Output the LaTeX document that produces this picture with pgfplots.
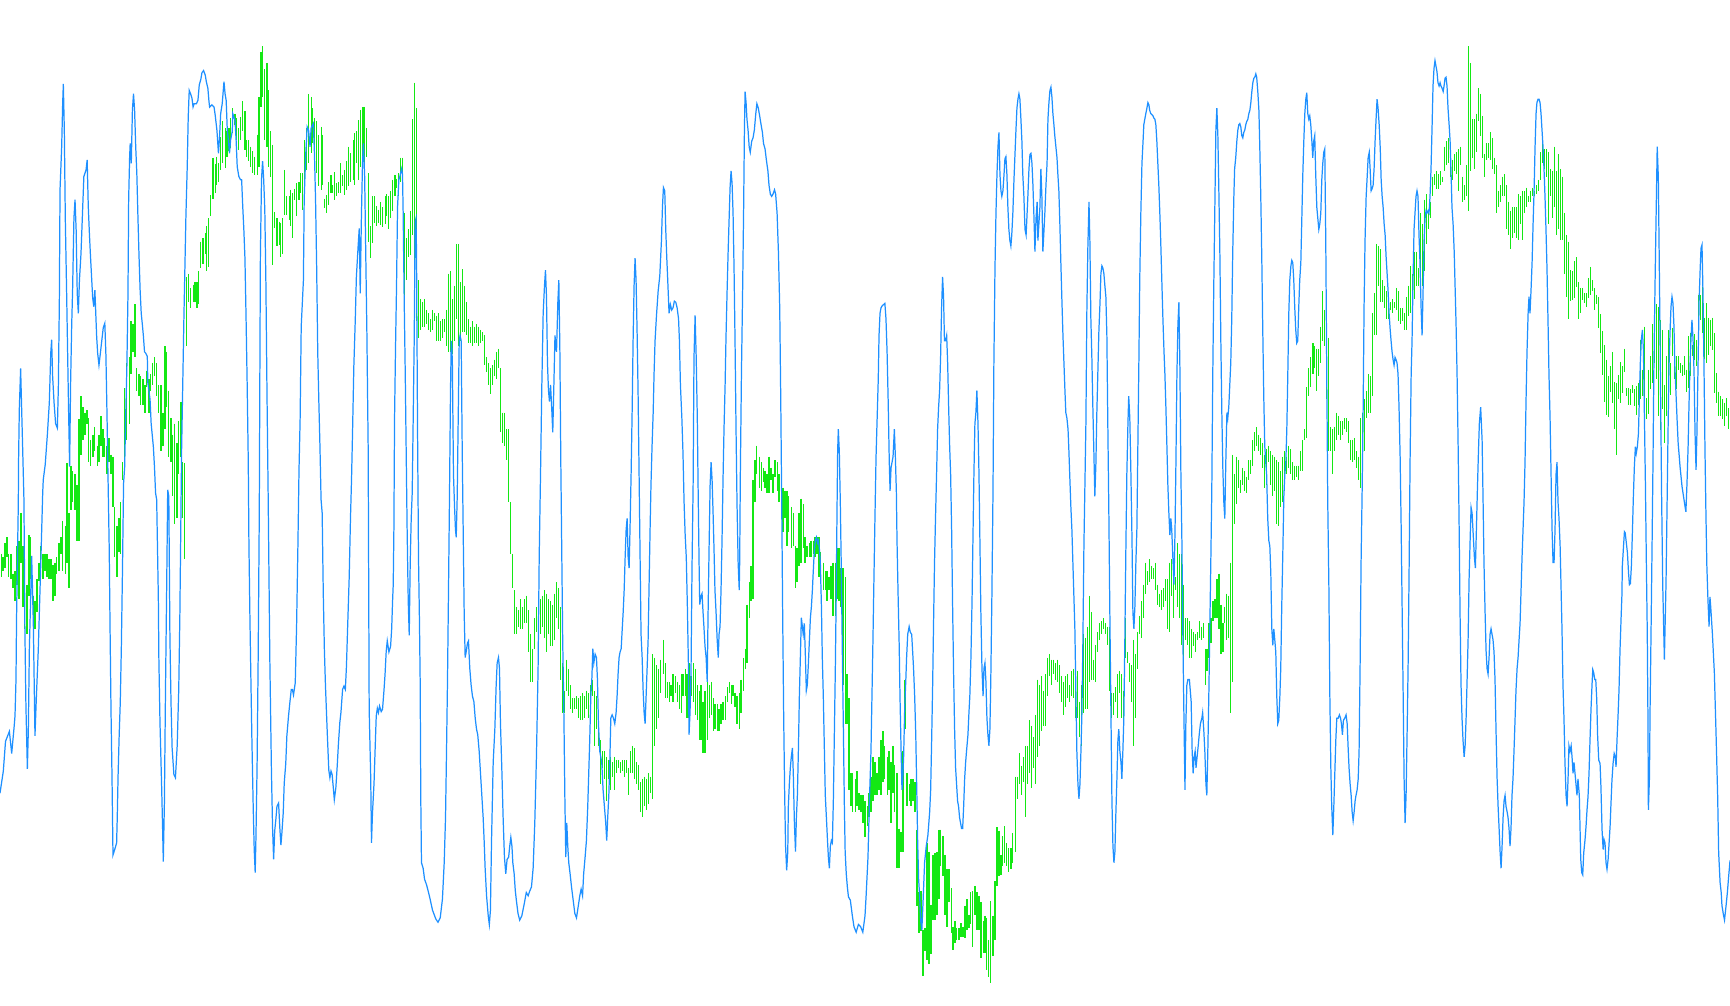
\documentclass[border=0pt]{standalone}
\usepackage{pgfplots}
\usepackage{pgfplotstable}
\pgfplotsset{compat=1.18}
\definecolor{oscblue}{RGB}{30,144,255}
\definecolor{pricegreen}{RGB}{20,232,20}
% price bars: x, top (lo) and bottom (hi) in screen units, y grows downwards
\pgfplotstableread[row sep=\\]{
x lo hi\\
1 502 523\\ 2.7 505 518\\ 4.5 492 515\\ 6.3 487 505\\ 8 502 523\\ 10 502 525\\ 11.8 520 533\\ 13.6 518 545\\
15.4 495 530\\ 17.2 490 543\\ 19 465 510\\ 20.8 495 550\\ 22.6 520 570\\ 24.5 530 575\\ 26.3 485 540\\ 28 487 525\\
30 540 575\\ 31.7 545 570\\ 33.5 525 555\\ 35.3 510 527\\ 37 495 525\\ 39 502 525\\ 40.8 502 518\\ 42.6 502 523\\
44.4 507 525\\ 46.2 507 525\\ 48 512 545\\ 49.8 510 540\\ 51.6 505 520\\ 53.5 492 518\\ 55.3 487 502\\ 57 472 518\\
59 477 520\\ 60.7 420 510\\ 62.5 465 533\\ 64.3 422 462\\ 66 427 455\\ 68 430 462\\ 69.8 440 490\\ 71.6 380 490\\
73.4 359 412\\ 75.2 369 399\\ 77 374 394\\ 78.8 372 384\\ 80.6 379 419\\ 82.4 399 422\\ 84.3 394 414\\ 86 387 409\\
88 404 422\\ 89.7 394 419\\ 91.5 377 404\\ 93.3 389 414\\ 95 397 414\\ 97 404 430\\ 98.8 397 419\\ 100.6 412 430\\
102.4 414 460\\ 104 460 505\\ 106 477 523\\ 107.8 470 500\\ 109.6 455 502\\ 111.4 419 435\\ 113 352 419\\ 115 329 399\\
117 324 384\\ 118.7 291 339\\ 120.5 294 319\\ 122.3 276 324\\ 124 334 354\\ 126 339 359\\ 127.7 341 367\\ 129.6 344 367\\
131.4 349 374\\ 133 336 351\\ 135 344 374\\ 136.8 339 354\\ 138.6 329 349\\ 140.4 324 341\\ 142.2 329 359\\ 144 349 374\\
145.9 349 409\\ 147.7 374 404\\ 149.5 314 389\\ 151.3 319 369\\ 153 354 414\\ 155 379 419\\ 156.7 394 450\\ 158.5 384 475\\
160.4 402 470\\ 162 382 430\\ 164 364 414\\ 165.8 419 470\\ 167.6 420 507\\ 169.4 251 314\\ 171.2 248 274\\ 173 261 279\\
175 258 274\\ 176.7 256 274\\ 178.5 256 279\\ 180.3 246 276\\ 182 219 243\\ 184 216 239\\ 186 211 230\\ 187.5 205 246\\
189 198 242\\ 191 177 196\\ 193 143 180\\ 195 149 175\\ 196.6 142 168\\ 198.4 148 165\\ 200 124 154\\ 202 110 148\\
204 116 152\\ 205.7 119 142\\ 207.5 116 137\\ 209 107 134\\ 211 98 121\\ 213 103 113\\ 214.7 107 127\\ 216.5 116 136\\
218 106 127\\ 220 92 119\\ 222 101 136\\ 223.8 127 142\\ 225.6 127 146\\ 227.4 133 151\\ 229 137 157\\ 231 142 159\\
233 122 159\\ 234.7 88 151\\ 236.5 47 97\\ 238 42 88\\ 240 63 127\\ 242 57 133\\ 243.7 82 151\\ 245.5 119 160\\
247 131 240\\ 249 192 207\\ 251 198 223\\ 253 201 222\\ 254.6 202 233\\ 256.4 198 230\\ 258 154 195\\ 260 178 195\\
262 178 199\\ 263.6 172 205\\ 265.5 175 216\\ 267 171 181\\ 269 166 196\\ 271 165 181\\ 272.7 157 175\\ 274.5 157 190\\
276 127 181\\ 278 116 154\\ 280 85 148\\ 282 88 139\\ 283.6 98 130\\ 285.4 107 151\\ 287 110 157\\ 289 122 169\\
291 115 172\\ 292.6 122 168\\ 294.5 180 189\\ 296 177 193\\ 298 165 186\\ 300 159 175\\ 301.7 168 175\\ 303.5 156 181\\
305 166 178\\ 307 165 175\\ 309 148 175\\ 310.8 159 169\\ 312.6 154 177\\ 314.4 146 172\\ 316 133 169\\ 318 139 165\\
320 127 163\\ 321.6 121 168\\ 323.4 119 148\\ 325 109 163\\ 327 100 151\\ 329 97 142\\ 330.7 97 166\\ 332.5 116 142\\
334 157 219\\ 336 205 234\\ 338 178 220\\ 339.8 178 202\\ 341.6 187 205\\ 343.4 190 202\\ 345 183 204\\ 347 188 206\\
349 178 203\\ 350.6 176 196\\ 352.5 178 208\\ 354 173 198\\ 356 163 191\\ 358 159 178\\ 359.7 162 170\\ 361.5 157 178\\
363.3 143 165\\ 365 143 163\\ 367 193 269\\ 368.8 216 254\\ 370.6 208 233\\ 372.4 191 231\\ 374.2 108 213\\ 376 75 269\\
377.8 98 291\\ 379.6 254 306\\ 381.5 271 299\\ 383.3 274 296\\ 385 271 296\\ 386.9 281 294\\ 388.7 284 299\\ 390.5 289 301\\
392.3 281 299\\ 394 284 291\\ 396 286 309\\ 397.8 284 309\\ 399.6 291 309\\ 401.4 289 306\\ 403.2 289 301\\ 405 281 314\\
406.8 248 319\\ 408.6 246 319\\ 410.4 271 321\\ 412 259 309\\ 414 221 289\\ 415.9 221 314\\ 417.7 256 309\\ 419.5 244 301\\
421.3 259 301\\ 423 274 304\\ 425 289 311\\ 426.7 296 311\\ 428.6 291 314\\ 430.4 296 311\\ 432.2 294 311\\ 434 296 314\\
435.8 299 311\\ 437.6 301 309\\ 439.4 304 331\\ 441.3 324 337\\ 443 329 349\\ 444.9 334 357\\ 446.7 331 349\\ 448.5 326 341\\
450.3 319 344\\ 452 316 334\\ 454 334 392\\ 455.7 374 402\\ 457.5 374 404\\ 459.4 389 417\\ 461 389 455\\ 463 455 502\\
464.8 502 533\\ 466.6 535 575\\ 468.4 550 575\\ 470.2 553 568\\ 472 543 570\\ 473.9 550 570\\ 475.7 543 565\\ 477.5 540 565\\
479.3 553 591\\ 481 575 618\\ 483 588 618\\ 484.7 560 588\\ 486.5 550 573\\ 488.4 545 565\\ 490 543 575\\ 492 540 568\\
493.8 535 578\\ 495.6 538 591\\ 497.4 543 575\\ 499.2 545 586\\ 501 548 586\\ 502.8 538 580\\ 504.7 528 560\\ 506.5 533 570\\
508.3 550 616\\ 510 601 646\\ 512 626 646\\ 513.7 598 626\\ 515.5 606 631\\ 517.4 621 643\\ 519 633 646\\ 521 633 643\\
522.8 631 643\\ 524.6 633 651\\ 526.4 631 653\\ 528.2 628 653\\ 530 631 651\\ 531.8 626 643\\ 533.7 628 651\\ 535.5 621 636\\
537.3 616 631\\ 539 626 676\\ 541 631 661\\ 542.7 656 676\\ 544.5 671 711\\ 546.3 681 696\\ 548 681 706\\ 550 686 726\\
551.8 689 706\\ 553.6 686 716\\ 555.4 691 704\\ 557.2 686 716\\ 559 689 701\\ 560.8 689 696\\ 562.6 691 701\\ 564.5 689 699\\
566.3 689 704\\ 568 689 701\\ 570 696 721\\ 571.7 681 701\\ 573.5 676 701\\ 575.3 678 706\\ 577 691 711\\ 579 693 716\\
580.8 709 736\\ 582.6 706 741\\ 584.4 704 731\\ 586.2 706 734\\ 588 701 729\\ 589.8 704 719\\ 591.6 593 724\\ 593.5 596 676\\
595.3 603 661\\ 597 606 651\\ 599 598 628\\ 601 580 611\\ 602.8 601 633\\ 604.6 618 633\\ 606.4 618 636\\ 608.2 621 631\\
610 611 636\\ 612 613 628\\ 613.7 618 636\\ 615.5 621 643\\ 617.3 611 646\\ 619 611 631\\ 621 606 631\\ 622.7 611 651\\
624.5 601 651\\ 626.3 613 631\\ 628.2 601 636\\ 630 606 648\\ 631.8 621 653\\ 633.6 626 671\\ 635.4 621 671\\ 637.2 636 683\\
639 626 683\\ 641 618 671\\ 642.7 621 651\\ 644.5 618 648\\ 646.3 633 663\\ 648 638 661\\ 650 638 663\\ 651.7 643 663\\
653.5 638 656\\ 655.3 636 653\\ 657.2 631 653\\ 659 623 636\\ 661 618 628\\ 662.6 621 638\\ 664.4 621 631\\ 666.2 628 641\\
668 631 656\\ 670 628 661\\ 671.6 616 646\\ 673.5 596 626\\ 675.3 588 606\\ 677 548 601\\ 679 528 560\\ 680.7 513 545\\
682.5 435 543\\ 684.3 417 455\\ 686 404 430\\ 688 414 442\\ 690 419 445\\ 691.6 424 437\\ 693.4 427 442\\ 695.2 430 447\\
697 414 447\\ 698.8 424 435\\ 700.6 430 447\\ 702.4 417 432\\ 704.3 419 445\\ 706 430 455\\ 708 435 455\\ 709.7 442 482\\
711.5 445 470\\ 713.3 445 495\\ 715 450 482\\ 717 460 497\\ 718.8 465 495\\ 720.6 495 533\\ 722.4 497 528\\ 724.2 465 513\\
726 452 510\\ 728 457 497\\ 729.6 487 510\\ 731.4 495 505\\ 733.3 492 505\\ 735 490 505\\ 737 490 502\\ 738.7 487 505\\
740.5 487 502\\ 742.3 487 523\\ 744 500 528\\ 746 510 535\\ 747.8 518 535\\ 749.6 518 545\\ 751.4 523 535\\ 753.2 513 543\\
755 510 558\\ 757 510 558\\ 758.6 497 543\\ 760.4 497 545\\ 762.2 515 550\\ 764 515 621\\ 766 523 656\\ 767.7 611 656\\
769.5 633 716\\ 771.3 701 731\\ 773 701 736\\ 775 706 736\\ 776.7 699 731\\ 778.5 719 734\\ 780.4 721 736\\ 782.2 721 746\\
784 726 759\\ 786 731 749\\ 787.6 719 741\\ 789.4 704 736\\ 791.2 686 726\\ 793 691 721\\ 794.9 701 721\\ 796.7 686 716\\
798.5 671 721\\ 800.3 663 709\\ 802 676 706\\ 804 686 721\\ 805.7 681 716\\ 807.5 691 746\\ 809.4 676 719\\ 811 693 736\\
813 701 787\\ 814.8 751 787\\ 816.6 754 772\\ 818.4 681 772\\ 820.2 616 661\\ 822 701 731\\ 824 711 726\\ 825.7 706 731\\
827.5 706 726\\ 829.3 709 736\\ 831.1 752 821\\ 832.9 809 846\\ 834.7 808 844\\ 836.5 843 885\\ 838.4 841 862\\ 840.2 764 870\\
842 772 874\\ 843.8 820 865\\ 845.6 775 834\\ 847.4 773 834\\ 849.2 772 829\\ 851 752 815\\ 852.8 752 785\\ 854.7 758 794\\
856.5 775 829\\ 858.3 788 840\\ 860.1 788 818\\ 862 805 846\\ 863.7 840 861\\ 865.5 835 855\\ 867.3 841 852\\ 869.2 841 852\\
871 837 849\\ 872.8 840 849\\ 874.6 821 850\\ 876.4 815 843\\ 878.2 829 841\\ 880 809 838\\ 881.8 808 858\\ 883.7 803 829\\
885.5 809 843\\ 887.3 812 843\\ 889.1 818 868\\ 891 835 864\\ 892.7 830 864\\ 894.5 832 879\\ 896.3 852 886\\ 898.1 817 891\\
900 830 867\\ 901.8 799 852\\ 903.6 750 803\\ 905.4 753 794\\ 907.2 775 793\\ 909 758 785\\ 910.8 749 782\\ 912.6 764 785\\
914.4 769 790\\ 916.3 769 788\\ 918 755 782\\ 920.5 704 772\\ 922.3 704 724\\ 924 683 711\\ 926 694 721\\ 927.7 686 709\\
929.5 676 741\\ 931.3 676 711\\ 933 653 701\\ 935 658 714\\ 936.8 668 696\\ 938.6 648 711\\ 940.4 616 686\\ 942.2 621 676\\
944 613 663\\ 945.8 626 658\\ 947.7 611 658\\ 949.5 596 631\\ 951.3 593 613\\ 953 598 621\\ 955 598 611\\ 956.7 601 616\\
958.5 598 618\\ 960.3 603 628\\ 962 613 636\\ 964 618 648\\ 965.8 613 641\\ 967.6 611 633\\ 969.4 621 636\\ 971.2 608 631\\
973 606 633\\ 975 598 651\\ 976.6 608 651\\ 978.5 636 668\\ 980.3 621 676\\ 982 575 646\\ 984 578 643\\ 985.7 568 643\\
987.5 540 618\\ 989.3 555 616\\ 991 598 616\\ 993 585 618\\ 994.8 573 591\\ 996.6 565 580\\ 998.4 563 575\\ 1000.2 560 570\\
1002 565 575\\ 1003.8 568 585\\ 1005.6 568 626\\ 1007.5 628 651\\ 1009.3 628 648\\ 1011 623 636\\ 1013 611 651\\ 1014.7 608 628\\
1016.5 611 651\\ 1018.3 626 651\\ 1020.1 560 596\\ 1022 591 601\\ 1023.8 601 618\\ 1025.6 603 636\\ 1027.4 580 676\\ 1029.2 593 651\\
1031 573 606\\ 1032.8 558 575\\ 1034.6 545 578\\ 1036.4 530 560\\ 1038.3 510 538\\ 1040 518 530\\ 1042 507 528\\ 1043.7 513 525\\
1045.5 515 525\\ 1047.3 510 535\\ 1049 530 548\\ 1051 538 550\\ 1052.8 535 553\\ 1054.6 533 550\\ 1056.4 525 545\\ 1058.2 525 570\\
1060 510 573\\ 1061.8 507 540\\ 1063.6 523 560\\ 1065.4 523 535\\ 1067.2 492 550\\ 1069 502 560\\ 1070.9 502 585\\ 1072.7 530 606\\
1074.5 560 580\\ 1076.3 560 585\\ 1078.1 563 596\\ 1080 570 596\\ 1081.8 573 586\\ 1083.5 575 591\\ 1085.3 573 580\\ 1087 563 578\\
1088.8 568 580\\ 1090.5 565 578\\ 1092.3 588 621\\ 1094 588 608\\ 1095.8 565 596\\ 1097.6 560 583\\ 1099.4 545 563\\ 1101.2 543 560\\
1103 525 560\\ 1104.8 520 570\\ 1106.6 548 593\\ 1108.4 565 591\\ 1110.2 550 565\\ 1112 538 580\\ 1113.8 540 578\\ 1115.6 510 646\\
1117.4 412 618\\ 1119.2 430 475\\ 1121 414 457\\ 1122.8 417 442\\ 1124.6 435 447\\ 1126.4 424 440\\ 1128.2 427 445\\ 1130 432 447\\
1131.9 417 435\\ 1133.7 417 430\\ 1135.5 399 422\\ 1137.3 392 409\\ 1139.1 387 404\\ 1141 394 409\\ 1142.7 397 412\\ 1144.5 402 424\\
1146.4 412 442\\ 1148.2 407 440\\ 1150 404 419\\ 1151.8 409 440\\ 1153.6 412 450\\ 1155.4 414 445\\ 1157.2 417 475\\ 1159 419 477\\
1160.8 427 460\\ 1162.7 414 455\\ 1164.5 409 445\\ 1166.3 414 430\\ 1168 404 424\\ 1170 407 430\\ 1171.7 419 435\\ 1173.5 422 435\\
1175.3 422 432\\ 1177.2 422 435\\ 1179 409 427\\ 1180.8 399 427\\ 1182.6 389 399\\ 1184.4 351 397\\ 1186.2 334 359\\ 1188 324 351\\
1190 311 339\\ 1191.7 314 334\\ 1193.5 316 354\\ 1195.3 316 341\\ 1197.1 296 329\\ 1199 264 309\\ 1200.7 281 314\\ 1202.5 309 362\\
1204.3 306 409\\ 1206.2 387 409\\ 1208 389 430\\ 1209.8 387 409\\ 1211.6 374 399\\ 1213.4 377 394\\ 1215.2 382 399\\ 1217 382 394\\
1218.8 379 389\\ 1220.7 379 392\\ 1222.5 382 402\\ 1224.3 399 417\\ 1226.1 399 419\\ 1228 397 417\\ 1229.7 409 424\\ 1231.5 414 435\\
1233.3 379 442\\ 1235.2 374 412\\ 1237 362 409\\ 1238.8 354 379\\ 1240.6 339 374\\ 1242.4 341 374\\ 1244.2 284 359\\ 1246 266 304\\
1247.8 221 304\\ 1249.6 223 259\\ 1251.5 226 274\\ 1253.3 254 274\\ 1255 259 279\\ 1256.9 264 289\\ 1258.7 271 289\\ 1260.5 274 281\\
1262.3 271 284\\ 1264.1 274 279\\ 1266 261 281\\ 1267.8 264 291\\ 1269.6 279 294\\ 1271.4 279 291\\ 1273.2 284 299\\ 1275 269 299\\
1276.8 259 286\\ 1278.6 241 284\\ 1280.5 248 274\\ 1282.3 228 271\\ 1284 228 259\\ 1285.9 243 259\\ 1287.7 193 248\\ 1289.5 203 259\\
1291.3 181 246\\ 1293.1 176 221\\ 1295 191 208\\ 1296.8 183 198\\ 1298.6 160 178\\ 1300.4 158 168\\ 1302.2 155 171\\ 1304 158 171\\
1305.8 155 168\\ 1307.6 160 165\\ 1309.4 133 155\\ 1311.3 128 150\\ 1313.1 125 148\\ 1314.9 138 160\\ 1316.7 145 163\\ 1318.5 140 155\\
1320.3 138 158\\ 1322 135 173\\ 1324 133 150\\ 1325.7 160 183\\ 1327.5 168 181\\ 1329.4 150 178\\ 1331.2 42 191\\ 1333 57 155\\
1334.8 108 143\\ 1336.6 108 153\\ 1338.4 103 138\\ 1340.2 80 110\\ 1342 85 123\\ 1343.9 105 143\\ 1345.7 140 160\\ 1347.5 130 145\\
1349.3 130 143\\ 1351 120 145\\ 1353 125 153\\ 1354.7 143 158\\ 1356.5 150 193\\ 1358.4 173 188\\ 1360.2 168 183\\ 1362 160 178\\
1363.8 158 178\\ 1365.6 168 208\\ 1367.4 183 213\\ 1369.2 191 226\\ 1371 188 216\\ 1372.9 188 211\\ 1374.7 188 216\\ 1376.5 176 218\\
1378.3 178 203\\ 1380 173 218\\ 1382 173 193\\ 1383.7 170 188\\ 1385.5 178 183\\ 1387.3 173 183\\ 1389.2 170 178\\ 1391 173 178\\
1392.8 168 176\\ 1394.6 163 173\\ 1396.4 138 163\\ 1398.2 125 148\\ 1400 135 153\\ 1402 135 160\\ 1403.7 138 203\\ 1405.5 153 178\\
1407.3 155 198\\ 1409.1 133 188\\ 1411 155 213\\ 1412.7 140 208\\ 1414.5 153 218\\ 1416.3 160 218\\ 1418.2 193 248\\ 1420 213 269\\
1421.8 219 289\\ 1423.6 245 273\\ 1425.4 246 272\\ 1427.2 237 270\\ 1429 233 260\\ 1431 256 289\\ 1432.7 261 284\\ 1434.5 261 272\\
1436.3 266 275\\ 1438 266 278\\ 1440 252 270\\ 1441.7 242 267\\ 1443.6 254 264\\ 1445.4 261 281\\ 1447.2 267 276\\ 1449 269 297\\
1450.8 285 320\\ 1452.6 300 340\\ 1454.4 313 364\\ 1456.2 326 376\\ 1458 341 378\\ 1460 332 355\\ 1461.7 319 365\\ 1463.5 346 389\\
1465.3 347 412\\ 1467.1 340 362\\ 1469 328 365\\ 1470.7 332 356\\ 1472.6 316 337\\ 1474.4 352 359\\ 1476.2 352 367\\ 1478 353 367\\
1479.8 349 356\\ 1481.6 353 368\\ 1483.4 350 376\\ 1485.2 347 367\\ 1487 308 362\\ 1488.9 335 359\\ 1490.7 296 380\\ 1492.5 361 380\\
1494.3 335 375\\ 1496 323 353\\ 1498 294 347\\ 1499.7 303 329\\ 1501.5 276 344\\ 1503.3 278 377\\ 1505.2 290 390\\ 1507 299 371\\
1508.8 349 402\\ 1510.6 323 377\\ 1512.4 299 350\\ 1514.2 329 358\\ 1516 297 323\\ 1517.9 325 344\\ 1519.7 323 353\\ 1521.5 323 335\\
1523.3 329 338\\ 1525 331 341\\ 1527 323 340\\ 1528.7 335 355\\ 1530.5 305 352\\ 1532.3 302 341\\ 1534 313 323\\ 1535.9 303 326\\
1537.8 308 332\\ 1539.6 267 325\\ 1541.4 267 290\\ 1543.2 260 302\\ 1545 288 325\\ 1546.8 275 329\\ 1548.7 288 322\\ 1550.5 290 314\\
1552.3 288 317\\ 1554 302 356\\ 1556 338 365\\ 1557.7 355 377\\ 1559.5 359 377\\ 1561.3 362 380\\ 1563.2 365 386\\ 1565 361 377\\
1566.8 370 389\\
}\pricebars
\begin{document}
\begin{tikzpicture}
\useasboundingbox (0,0) rectangle (173mm,100.5mm);
\begin{axis}[
	at={(0,0)},anchor=south west,
	width=173mm,height=100.5mm,scale only axis,
	xmin=0,xmax=1568,ymin=0,ymax=911,y dir=reverse,
	hide axis]
% price bars, drawn as vertical strokes from top to bottom
\addplot[draw=none,mark=none,forget plot,
	error bars/.cd,y dir=plus,y explicit,error mark=none,
	error bar style={draw=pricegreen,line width=0.32pt}]
	table[x=x,y=lo,y error expr=\thisrow{hi}-\thisrow{lo}] {\pricebars};
% oscillator
\addplot[oscblue,line width=0.35pt,mark=none] coordinates {
(0,719) (3,699) (5,672) (8.5,663) (10.6,683) (12.7,660) (13.6,649) (14.5,616) (15,560) (16.6,456) (16.8,420)
(17.5,371) (18.7,334) (20.5,405) (21.7,453) (22.6,574) (23.5,640) (24.8,697) (25.7,661) (26.6,589) (27.8,541)
(28.7,504) (30.2,565) (31.7,667) (33,631) (34.7,589) (36,544) (37.4,495) (38.7,447) (39.2,435) (41,421) (43,393)
(44.7,365) (46,320) (46.8,308) (47.7,341) (49,365) (50.4,384) (52,388) (52.9,350) (53.8,272) (54.4,172) (55.9,133)
(56.8,94) (57.4,76) (58.3,118) (59.2,199) (60.4,266) (61.3,320) (62.2,374) (63.1,423) (64,347) (65,294) (65.8,263)
(67,198) (68,181) (69,208) (70,266) (71,284) (72,254) (73.4,230) (75,187) (76,160) (78,154) (79,145) (80,187)
(81,211) (82,232) (83,251) (84,270) (85,278) (86,263) (87.6,305) (88.5,320) (89.7,331) (91,320) (92,311) (93.6,297)
(95,293) (96,322) (97,377) (98,438) (99,498) (99.7,565) (100.6,643) (101.5,703) (102.4,775) (104,770) (105.7,764)
(106.3,740) (107,704) (108,667) (109,637) (110,586) (111,517) (112,438) (113,423) (114,374) (115,332) (116,266)
(116.6,181) (117.5,142) (118,130) (119,148) (120,100) (121,85) (122,100) (123,133) (124,157) (125,196) (126,232)
(127,263) (128,284) (129,294) (130,305) (131,319) (132,320) (133.5,323) (134,347) (136,362) (137,384) (139,405)
(140,423) (141,447) (142,453) (143.5,541) (144,598) (145,655) (146.5,713) (147.4,752) (148,781) (149,728) (150,625)
(151,538) (152,444) (153,450) (154,577) (155,637) (156,678) (157.6,702) (159,705) (160.6,676) (162,625) (163,559)
(164.6,408) (165.5,356) (166.7,287) (167.6,242) (168.5,196) (169.7,151) (170.6,106) (171.5,82) (172.7,85) (174,89)
(175,97) (176,94) (178,94) (179.4,91) (180.6,77) (182,72) (183,66) (184.5,64) (186,68) (187,74) (188.4,80) (189.4,92)
(190,97) (192,95) (194,97) (195,104) (196.6,118) (198,139) (199,124) (200,103) (201.4,94) (203,74) (204,85) (205,91)
(206,118) (207,127) (208,139) (209,127) (210.5,119) (211,103) (213,109) (214,127) (215,151) (216.5,160) (218,163)
(219,163) (220,187) (221,208) (222,234) (223,287) (224,347) (225,417) (225.6,492) (226.5,559) (227.4,616) (228.3,670)
(229.5,732) (230.4,770) (231.3,791) (232,758) (233,695) (234,595) (235,465) (235.5,344) (236,232) (237,163) (238,146)
(239,163) (240,190) (241,257) (242,358) (243,445) (244.6,601) (246,698) (247,749) (248,779) (249,753) (250,743)
(251,731) (252.5,728) (253.7,752) (254.6,766) (255.5,755) (256.7,737) (257.6,710) (259,692) (260,667) (261.5,649)
(262.7,637) (264,625) (265,625) (266,630) (267.6,619) (268.8,568) (270,495) (271,426) (272,381) (273,296) (275,254)
(275.7,181) (277,142) (278.4,115) (279.7,118) (281,133) (282,116) (284,112) (285,139) (286,181) (287,242) (288,320)
(289,365) (290,405) (291,453) (292,465) (293,538) (294,589) (295,622) (296.6,664) (298,698) (299,705) (300,699)
(301,702) (302,713) (303,725) (304.4,714) (305.6,695) (306.8,673) (308,655) (309,646) (310.5,625) (311.7,622)
(313,625) (314,604) (315,571) (316.5,523) (317.7,468) (318.6,435) (319.5,393) (320.7,332) (322,290) (323,251)
(324.6,223) (325.6,207) (326.5,266) (327.5,200) (328.5,150) (329.4,130) (330.5,160) (331.5,230) (332.5,300)
(333.7,407) (334.2,539) (334.6,643) (336,705) (336.7,764) (337.6,737) (339,710) (340,679) (341,649) (342,642)
(343,646) (344,640) (345.5,645) (346.7,643) (348,626) (349,611) (350,591) (351,581) (352.5,591) (354,586) (355,570)
(355.8,545) (356.4,530) (357,480) (357.6,379) (358.5,314) (359.4,259) (360.3,188) (361.5,163) (362.4,160) (364,153)
(364.8,158) (365.4,193) (366.3,269) (367.3,339) (368.2,414) (369,480) (370,545) (370.9,576) (371.8,510) (372.7,470)
(373.6,447) (374.5,379) (375.4,309) (376.3,201) (377,198) (377.5,228) (378.4,384) (379.3,505) (380.2,565) (380.8,616)
(381.4,726) (382,782) (383.5,787) (384.8,797) (386.6,802) (388.4,809) (389.6,814) (392,825) (395,833) (397,836)
(399,832) (401,815) (402.6,782) (403.8,741) (404.7,681) (405.6,616) (406.5,535) (407.4,450) (408.3,354) (409,309)
(409.5,314) (410,329) (411,430) (412,460) (412.8,480) (413.5,487) (414.4,450) (415.3,379) (416.2,309) (417,304)
(418,309) (418.9,405) (419.8,480) (420.7,555) (421.6,596) (422.5,591) (423.7,583) (424.6,581) (425.8,606) (427,621)
(428.2,631) (429.5,636) (430.7,651) (431.9,661) (433,666) (434.3,681) (435.5,701) (436.7,721) (437.9,741) (438.8,762)
(439.7,787) (441,812) (442.5,830) (443.5,838) (444.5,825) (445.5,762) (447,691) (448.5,661) (449.7,621) (450.6,601)
(451.8,596) (452.7,606) (453.6,656) (454.8,696) (456,741) (457.2,777) (458.4,792) (459.6,779) (461,777) (462,767)
(463,759) (464,767) (464.8,782) (466,792) (467,807) (468,816) (469.5,828) (471,834) (473,830) (475,820) (477,809)
(478.7,812) (480,808) (481.7,804) (483.2,787) (484.7,746) (486.2,686) (487.7,606) (488.7,505) (489.9,430) (491,354)
(492.3,284) (493.5,259) (494.4,245) (495.3,269) (496.2,329) (497.1,354) (498,364) (499,349) (500,369) (501,392)
(502,349) (503,304) (504.4,319) (505.6,274) (506.5,254) (507.4,314) (508.3,420) (509.2,505) (510,581) (511,641)
(512,726) (512.8,777) (513.7,746) (514.6,767) (515.5,782) (516.7,792) (518,804) (519.5,816) (521,828) (522.5,832)
(524,822) (525.5,812) (526.7,806) (528,812) (529,792) (530.3,777) (531.5,762) (532.7,731) (533.6,701) (534.5,671)
(535.5,631) (536.4,616) (537.3,588) (538.2,601) (539.4,593) (540.6,596) (541.5,616) (542.4,656) (543.6,681)
(544.5,686) (545.4,691) (546.6,716) (547.8,731) (549,746) (549.9,762) (550.8,741) (551.8,721) (552.7,691) (553.6,651)
(554.8,648) (556,651) (557.2,656) (558.4,646) (559.3,631) (560.2,611) (561.1,596) (562,591) (563,588) (563.8,573)
(564.8,555) (565.7,535) (566.6,505) (567.5,480) (568.4,470) (569.3,505) (570.2,515) (571,480) (572,430) (573,369)
(573.8,309) (574.7,259) (575.6,234) (576.5,254) (577.4,299) (578.3,354) (579.3,435) (580.2,510) (581,575) (582,596)
(582.9,626) (583.8,646) (584.7,656) (585.6,631) (586.5,606) (587.4,581) (588.3,530) (589.2,480) (590,440) (591,404)
(592,374) (592.8,339) (593.7,309) (595,286) (596.5,264) (598,250) (599.5,218) (600.4,188) (601.3,170) (602.5,173)
(603.4,208) (604.3,233) (605.2,254) (606.4,284) (607.6,276) (608.8,281) (610,279) (611.2,273) (612.5,274) (613.7,279)
(615,289) (615.8,309) (616.7,349) (618,379) (619,410) (620,455) (621,485) (622,505) (623,550) (624,606) (624.5,666)
(625.4,646) (626.3,611) (627.2,515) (628.2,440) (629,324) (630,286) (631,324) (632,379) (632.7,440) (633.6,510)
(634.2,548) (635.4,540) (636.3,538) (637.2,555) (638,568) (639,586) (640,596) (641,618) (641.7,560) (642.7,495)
(643.6,440) (644.5,419) (645.4,435) (646.3,465) (647.2,500) (648,535) (649,555) (650,580) (651,596) (651.7,575)
(652.6,568) (653.5,535) (654.4,490) (655.3,435) (656.2,389) (657.2,349) (658,306) (659,264) (660,226) (661,193)
(661.7,170) (662.6,155) (663.5,166) (664.4,193) (665.3,243) (666.2,309) (667.1,389) (668,457) (669,510) (670,535)
(670.4,510) (671,430) (672,339) (673,269) (674,188) (674.7,118) (675.3,83) (676.2,93) (677,108) (678,118) (679,133)
(680,138) (681.3,128) (682.5,125) (683.7,118) (685,103) (686,94) (687.3,98) (688.5,105) (689.8,113) (691,120)
(692,130) (693.4,135) (694.6,145) (696,155) (697,168) (698.2,176) (699.4,178) (700.6,176) (702,172) (703,176)
(704.3,193) (705.5,228) (706.7,279) (707.6,359) (708.5,455) (709.4,560) (710.3,651) (711.2,721) (712,767) (713,789)
(714,772) (714.5,731) (715.4,711) (716.3,696) (717.2,686) (718.2,678) (719,701) (720,746) (721,772) (721.8,741)
(722.7,721) (723.6,681) (724.5,631) (725.4,596) (726.3,560) (727.2,568) (728,575) (729,565) (730,596) (730.8,626)
(731.7,621) (732.7,601) (733.6,580) (734.5,560) (735.4,550) (736.3,535) (737,520) (738,500) (739,490) (740,487)
(741,492) (741.7,490) (742.6,497) (743.5,510) (744.5,550) (745.3,596) (746.2,631) (747.1,676) (748,721) (749,741)
(750,762) (750.8,777) (751.7,787) (752.6,767) (753.5,762) (754.4,764) (755.3,726) (756.2,666) (757.1,606) (758,530)
(758.6,465) (759.2,409) (759.8,389) (760.7,409) (761.6,455) (762.5,515) (763.5,596) (764.4,661) (765.3,731) (766,772)
(767,792) (768,804) (769,813) (770.7,816) (772.5,830) (774,840) (776,845) (778,838) (780,840) (782,845) (784,830)
(785,812) (786.7,777) (788,726) (789.4,681) (790.3,631) (791.2,580) (792,530) (793,470) (794,414) (795,379) (796,344)
(796.7,304) (797.6,284) (798.5,279) (799.7,277) (801,276) (802,275) (803,289) (804,319) (805,364) (806,419)
(806.7,445) (807.6,424) (808.5,419) (809.4,414) (810.6,389) (811.5,414) (812.4,445) (813,490) (814,540) (815,586)
(815.7,631) (816.6,676) (817.5,716) (818,711) (819,686) (820,641) (821,616) (821.7,596) (822.7,575) (824,568)
(825,573) (826.3,575) (827.2,591) (828,606) (829,631) (830,666) (831,721) (831.7,762) (832.6,797) (833.5,812)
(834.5,835) (835.5,843) (836.5,820) (838,782) (839.5,767) (841,757) (842.6,736) (843.5,716) (844.4,671) (845.3,621)
(846.2,560) (847,510) (848,465) (849,424) (849.8,389) (850.7,369) (851.6,354) (852.5,324) (853.4,279) (854.3,251)
(855.2,269) (856,309) (857,309) (858,304) (858.9,329) (859.8,369) (860.7,404) (861.6,430) (862.5,480) (863.4,550)
(864.3,611) (865.2,661) (866.1,696) (867,711) (867.9,726) (868.8,731) (869.7,741) (870.6,746) (871.5,751) (872.5,751)
(873.4,731) (874.3,706) (875.2,691) (876,681) (877.3,666) (878.2,646) (879,631) (880,596) (881,545) (881.8,490)
(882.7,430) (883.6,384) (884.5,374) (885.4,354) (886.4,384) (887.3,430) (888.2,495) (889,555) (890,606) (891,631)
(891.8,606) (892.7,601) (893.6,618) (894.5,651) (895.4,666) (896.3,676) (897.2,661) (898,616) (899,540) (900,445)
(900.8,329) (901.8,243) (902.7,193) (903.6,158) (904.5,133) (905.4,120) (906.3,158) (907.2,173) (908,178) (909,173)
(910,158) (910.8,144) (911.7,142) (912.6,158) (913.5,188) (914.4,208) (915.3,218) (916.2,223) (917,213) (918,193)
(919,163) (920,138) (920.8,118) (921.7,98) (922.6,90) (923.5,85) (924.4,90) (925.3,108) (926.2,128) (927,158)
(928,178) (929,208) (930,213) (930.7,198) (931.6,178) (932.6,153) (933.5,140) (934.4,139) (935.3,148) (936.2,168)
(937,193) (938,228) (939,198) (940,183) (940.7,218) (941.6,203) (942.5,188) (943.4,153) (944.3,178) (945.2,228)
(946,213) (947,193) (948,168) (949,148) (949.8,108) (950.7,93) (951.6,82) (952.5,79) (953.4,88) (954.3,103)
(955.2,113) (956,123) (957,133) (958,143) (958.8,158) (959.7,173) (960.6,203) (961.5,238) (962.5,274) (963.4,304)
(964.3,329) (965.2,354) (966,374) (967,379) (968,389) (968.8,409) (969.7,435) (970.6,460) (971.5,480) (972.4,510)
(973.3,540) (974.2,570) (975.1,626) (976,681) (977,711) (977.9,724) (978.8,711) (979.7,681) (980.6,646) (981.5,580)
(982.4,495) (983.3,440) (984.2,384) (985.1,279) (986,223) (987,183) (987.8,218) (988.7,289) (989.6,324) (990.5,369)
(991.4,409) (992.3,450) (993.3,419) (994,379) (995,339) (996,299) (997,274) (997.8,248) (998.7,241) (999.6,243)
(1000.5,248) (1001.4,259) (1002.3,269) (1003.2,304) (1004,379) (1005,465) (1006,565) (1007,656) (1007.8,726)
(1008.7,767) (1009.6,782) (1010.5,772) (1011.4,736) (1012.3,706) (1013.2,671) (1014,661) (1015,681) (1016,691)
(1016.8,706) (1017.7,681) (1018.6,651) (1019.5,580) (1020.4,500) (1021.3,430) (1022.3,384) (1023,359) (1024,379)
(1025,430) (1026,490) (1026.8,555) (1027.7,570) (1028.6,550) (1029.5,510) (1030.4,480) (1031.3,404) (1032.2,329)
(1033,254) (1034,193) (1035,148) (1036,128) (1036.7,113) (1037.6,108) (1038.5,103) (1039.5,98) (1040.4,93)
(1041.3,95) (1042,100) (1043,103) (1044,104) (1045,105) (1045.8,107) (1046.7,108) (1047.6,113) (1048.5,128)
(1049.4,148) (1050.3,168) (1051.2,193) (1052,218) (1053,254) (1054,289) (1055,319) (1055.8,339) (1056.7,369)
(1057.6,404) (1058.5,440) (1059.4,465) (1060.3,485) (1061.2,470) (1062,480) (1063,505) (1064,530) (1065,480)
(1065.8,419) (1066.7,339) (1067.6,294) (1068.5,274) (1069.4,334) (1070.3,430) (1071.2,490) (1072,570) (1073,646)
(1074,716) (1074.8,656) (1075.7,621) (1076.6,616) (1078,616) (1079.6,636) (1080.5,681) (1081.4,701) (1082.3,686)
(1083.2,681) (1084,696) (1085,686) (1086,676) (1086.9,666) (1088,656) (1089.3,651) (1090,646) (1091,661) (1092,681)
(1093,711) (1093.8,721) (1094.7,681) (1095.6,631) (1096.5,570) (1097.4,510) (1098.3,445) (1099.2,339) (1100.1,259)
(1101,193) (1102,118) (1102.9,98) (1103.8,123) (1104.7,173) (1105.6,228) (1106.5,309) (1107.4,374) (1108.3,424)
(1109.2,455) (1110.1,470) (1111,419) (1112,374) (1112.8,379) (1113.7,369) (1114.6,349) (1115.5,329) (1116.4,289)
(1117.3,228) (1118.3,178) (1119,153) (1120,143) (1121,128) (1121.9,118) (1122.8,113) (1123.7,112) (1124.6,115)
(1125.5,123) (1126.4,125) (1127.3,120) (1128.2,118) (1129.1,113) (1130,110) (1131,108) (1131.9,103) (1132.8,100)
(1133.7,93) (1134.6,83) (1135.5,75) (1136.4,71) (1137.3,70) (1138.2,67) (1139,70) (1140,83) (1141,100) (1141.8,133)
(1142.7,178) (1143.6,233) (1144.5,299) (1145.4,359) (1146.3,404) (1147.2,419) (1148,430) (1149,470) (1150,490)
(1150.9,495) (1151.8,520) (1152.7,570) (1153.6,585) (1154.5,570) (1155.4,580) (1156.3,591) (1157.2,631) (1158.1,656)
(1159,653) (1160,631) (1160.8,606) (1161.7,550) (1162.7,500) (1163.6,450) (1164.5,430) (1165.4,419) (1166.3,389)
(1167.2,339) (1168.1,284) (1169,254) (1170,241) (1170.8,236) (1171.7,238) (1172.6,254) (1173.5,279) (1174.4,299)
(1175.3,311) (1176.2,309) (1177.1,279) (1178,254) (1179,238) (1179.9,198) (1180.8,158) (1181.7,128) (1182.6,103)
(1183.5,90) (1184.4,84) (1185.3,103) (1186.2,108) (1187.1,105) (1188,113) (1189,128) (1189.8,143) (1190.7,128)
(1191.6,123) (1192.5,158) (1193.5,188) (1194.4,198) (1195.3,208) (1196.2,203) (1197.1,193) (1198,163) (1198.9,148)
(1199.8,138) (1200.7,135) (1201.6,218) (1202.5,339) (1203.4,455) (1204.4,530) (1205.3,631) (1206.2,696) (1207,731)
(1208,757) (1208.9,731) (1209.8,701) (1210.7,671) (1211.6,651) (1212.8,651) (1214,648) (1215,651) (1215.8,656)
(1216.7,666) (1217.6,653) (1218.8,651) (1220,648) (1221,656) (1221.8,676) (1222.7,696) (1223.7,711) (1224.6,721)
(1225.5,736) (1226.4,744) (1227.3,736) (1228.2,726) (1229,721) (1230,716) (1231,706) (1231.8,681) (1232.7,606)
(1233.6,510) (1234.5,450) (1235.4,379) (1236.3,279) (1237.2,218) (1238.2,178) (1239,163) (1240,143) (1241,138)
(1241.8,153) (1242.7,173) (1243.6,171) (1244.5,168) (1245.4,153) (1246.3,128) (1247.2,108) (1248.1,90) (1249,98)
(1250,113) (1251,135) (1251.8,163) (1252.7,178) (1253.6,188) (1254.5,203) (1255.4,213) (1256.3,233) (1257.2,248)
(1258.1,264) (1259,284) (1260,299) (1260.8,309) (1261.7,319) (1262.6,326) (1263.5,331) (1264.4,324) (1265.3,326)
(1266.2,329) (1267.1,339) (1268,369) (1269,414) (1269.9,475) (1270.8,550) (1271.7,626) (1272.6,706) (1273.5,746)
(1274.4,721) (1275.3,666) (1276.2,606) (1277.1,520) (1278,419) (1279,339) (1279.8,309) (1280.7,254) (1281.6,208)
(1282.5,193) (1283.4,178) (1284.3,173) (1285.2,178) (1286.1,213) (1287,238) (1288,279) (1288.9,304) (1289.8,264)
(1290.7,218) (1291.6,198) (1292.5,191) (1293.4,193) (1294.3,191) (1295.2,193) (1296.1,178) (1297,153) (1298,113)
(1298.8,78) (1299.7,62) (1300.6,55) (1301.5,60) (1302.4,65) (1303.3,75) (1304.3,78) (1305.2,75) (1306,78) (1307,80)
(1308,83) (1308.8,78) (1309.7,71) (1310.6,70) (1311.5,78) (1312.4,98) (1313.4,113) (1314.3,128) (1315.2,158)
(1316,188) (1317,203) (1318,228) (1318.8,259) (1319.7,294) (1320.6,339) (1321.5,399) (1322.4,470) (1323.3,555)
(1324.2,621) (1325.1,651) (1326,671) (1327,686) (1327.9,676) (1328.8,651) (1329.7,616) (1330.6,580) (1331.5,525)
(1332.7,480) (1333.3,460) (1334.2,465) (1335,480) (1336.3,505) (1337.2,515) (1338,485) (1339,445) (1340,409)
(1340.8,384) (1342,369) (1343.3,399) (1344.2,455) (1345,510) (1346,555) (1346.9,590) (1347.8,606) (1348.7,611)
(1349.6,596) (1350.5,575) (1351.4,570) (1352.3,575) (1353.2,580) (1354.1,591) (1355,616) (1356,666) (1356.9,706)
(1357.8,731) (1358.7,751) (1359.6,772) (1360.5,787) (1361.4,767) (1362.3,741) (1363.2,726) (1364.1,721) (1365,731)
(1366,736) (1366.8,741) (1367.7,751) (1368.6,767) (1369.5,751) (1370.4,721) (1371.3,706) (1372.2,681) (1373.2,651)
(1374,626) (1375,606) (1375.9,596) (1376.8,580) (1377.7,565) (1378.6,535) (1379.5,505) (1380.4,480) (1381.3,455)
(1382.2,419) (1383.1,364) (1384,319) (1385,284) (1385.8,269) (1386.7,284) (1387.6,264) (1388.6,238) (1389.5,203)
(1390.4,173) (1391.3,133) (1392.2,103) (1393,93) (1394,90) (1394.9,90) (1395.8,93) (1396.7,103) (1397.6,118)
(1398.5,133) (1399.4,153) (1400.3,178) (1401.2,208) (1402.1,243) (1403,289) (1403.9,339) (1404.9,379) (1405.8,430)
(1406.7,480) (1407.6,510) (1408.5,510) (1409.4,480) (1410.3,430) (1411.2,419) (1412.1,455) (1413,470) (1414,495)
(1414.8,530) (1415.7,570) (1416.6,621) (1417.5,651) (1418.4,691) (1419.4,721) (1420.3,731) (1421.2,706) (1422,676)
(1423,681) (1424,676) (1424.8,686) (1425.7,701) (1426.6,691) (1427.5,701) (1428.4,711) (1429.3,721) (1430.2,706)
(1431.4,721) (1432.7,779) (1433.6,791) (1434.5,793) (1435.4,773) (1436.6,761) (1437.5,749) (1438.4,734) (1439.3,722)
(1440.2,701) (1441,674) (1442,643) (1443,619) (1443.6,607) (1444.5,610) (1445.4,616) (1446.3,616) (1447.2,634)
(1448,667) (1449,689) (1450.2,692) (1451,713) (1452,752) (1453,770) (1453.8,761) (1454.7,764) (1455.6,782)
(1456.5,788) (1457.5,779) (1458.4,764) (1459.3,749) (1460,731) (1461,707) (1462,692) (1463,683) (1464,686)
(1464.7,695) (1465.6,670) (1466.5,649) (1467.4,625) (1468.3,589) (1469.2,562) (1470,540) (1470.4,513) (1471.3,498)
(1472.3,482) (1473,483) (1474,492) (1475,501) (1476,519) (1476.8,530) (1477.7,529) (1478.6,513) (1479.5,483)
(1480.4,450) (1481.3,423) (1482.2,405) (1483,411) (1484,405) (1485,393) (1485.8,362) (1486.7,329) (1487.6,308)
(1488.6,299) (1489.5,317) (1490.4,377) (1491.3,438) (1492.2,513) (1493,574) (1493.6,650) (1494,734) (1495,704)
(1495.5,646) (1496.4,574) (1497.3,498) (1498.2,417) (1499,332) (1500,260) (1501,196) (1502,133) (1503,160)
(1504,250) (1505,350) (1506,450) (1507,530) (1508.5,598) (1510,528) (1511,453) (1511.8,393) (1512.7,332)
(1513.6,302) (1514.5,278) (1515.4,269) (1516.3,275) (1517.2,296) (1518,332) (1519,356) (1520,380) (1521,402)
(1522,414) (1522.7,423) (1523.6,432) (1524.5,441) (1525.4,447) (1526.3,453) (1527.2,459) (1528,464) (1529,438)
(1530,405) (1530.8,368) (1531.7,332) (1532.6,308) (1533.5,290) (1534.5,308) (1535.4,338) (1536.3,393) (1537.2,426)
(1538,393) (1539,332) (1540,272) (1541,242) (1541.7,225) (1542.6,222) (1543.5,266) (1544.4,332) (1545.3,408)
(1546.2,468) (1547,513) (1548,544) (1549,568) (1549.8,541) (1550.5,550) (1552,574) (1553.8,610) (1555.3,664)
(1556.8,722) (1557.7,773) (1559,800) (1560,809) (1560.7,821) (1562,829) (1563,834) (1564.4,821) (1565.6,809)
(1566.8,794) (1568,780)
};
\end{axis}
\end{tikzpicture}
\end{document}
